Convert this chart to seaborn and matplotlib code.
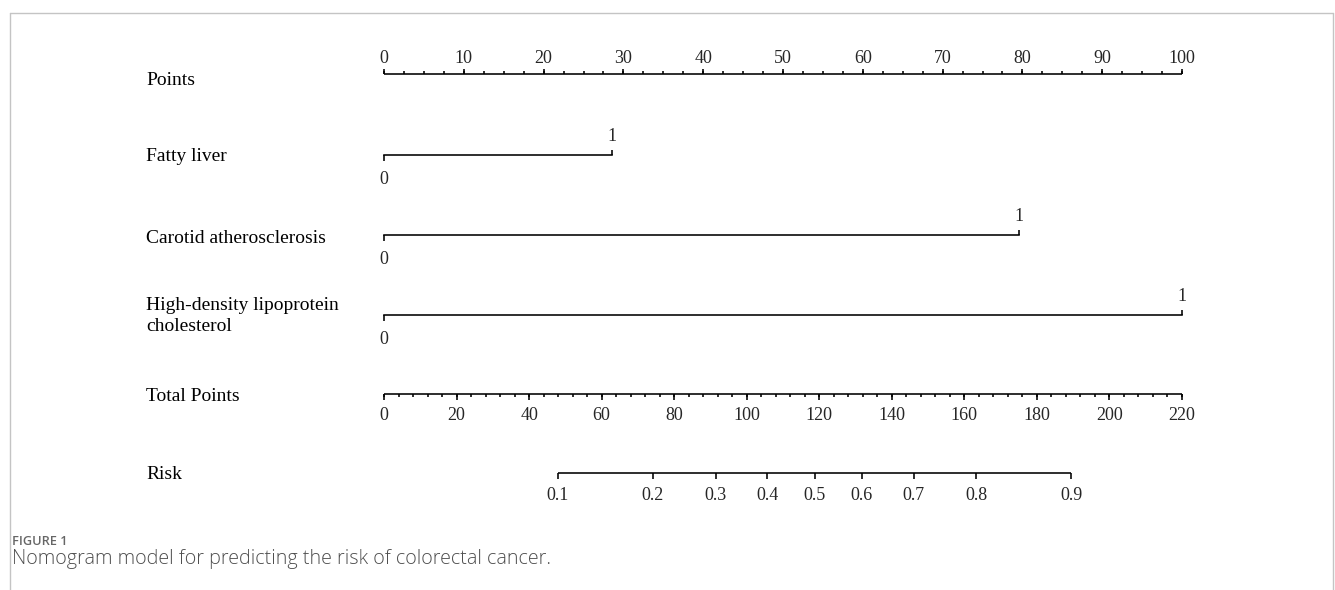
import numpy as np
import pandas as pd
import matplotlib
matplotlib.use("Agg")
import matplotlib.pyplot as plt
from matplotlib.lines import Line2D
import seaborn as sns

# ---- nomogram data -------------------------------------------------------
points_major = [0, 10, 20, 30, 40, 50, 60, 70, 80, 90, 100]
points_minor_step = 2.5

variables = ["Fatty liver", "Carotid atherosclerosis",
             "High-density lipoprotein\ncholesterol"]
level_labels = ["0", "1"]
level_points = [[0.0, 28.6], [0.0, 79.6], [0.0, 100.0]]

total_major = [0, 20, 40, 60, 80, 100, 120, 140, 160, 180, 200, 220]
total_minor_step = 4
total_max = 220

risk_ticks = [0.1, 0.2, 0.3, 0.4, 0.5, 0.6, 0.7, 0.8, 0.9]
risk_tick_labels = ["0.1", "0.2", "0.3", "0.4", "0.5", "0.6", "0.7", "0.8", "0.9"]
total_at_half_risk = 118.7     # total points where predicted risk = 0.5
points_per_logit = 32.2        # total points per unit of linear predictor

# ---- layout (figure pixels, measured from the top) -----------------------
W, H, DPI = 1335, 590, 100
LEFT_PX, RIGHT_PX = 384, 1182
LABEL_X_PX = 146
row_y = {"points": 74, "var": [155, 235, 315], "total": 394, "risk": 473}
label_base = {"points": 85, "var": [161, 243, [310, 331]], "total": 401, "risk": 479}
MAJ, MIN = 5.5, 3.0
LW = 1.15

sns.set_theme(style="white")
plt.rcParams["font.family"] = ["Liberation Serif", "DejaVu Serif"]

fig = plt.figure(figsize=(W / DPI, H / DPI), dpi=DPI)
fig.patch.set_facecolor("white")
ax = fig.add_axes([LEFT_PX / W, 0, (RIGHT_PX - LEFT_PX) / W, 1])
ax.set_xlim(0, 100)
ax.set_ylim(H, 0)
ax.axis("off")

px = 100 / (RIGHT_PX - LEFT_PX)   # data units per pixel along x
label_x = (LABEL_X_PX - LEFT_PX) * px
TICK_FS, LAB_FS = 13, 14
line_kw = dict(color="black", lw=LW, clip_on=False)


def tot2pts(v):
    return np.asarray(v, dtype=float) * 100.0 / total_max


def row_label(text, y):
    ax.text(label_x, y, text, ha="left", va="baseline", fontsize=LAB_FS,
            color="black", clip_on=False)


# Points scale: ticks point up, labels above
y = row_y["points"]
ax.hlines(y, 0, 100, **line_kw)
minor = np.arange(0, 100 + 1e-9, points_minor_step)
ax.vlines(minor, y - MIN, y, **line_kw)
ax.vlines(points_major, y - MAJ, y, **line_kw)
for v in points_major:
    ax.text(v, 63, str(v), ha="center", va="baseline", fontsize=TICK_FS)
row_label("Points", label_base["points"])

# Variable segments
seg = pd.DataFrame(
    [{"variable": var, "x": p, "y": row_y["var"][i]}
     for i, var in enumerate(variables) for p in level_points[i]]
)
sns.lineplot(data=seg, x="x", y="y", units="variable", estimator=None,
             sort=False, color="black", lw=LW, legend=False, ax=ax,
             clip_on=False, solid_capstyle="projecting")
ax.set_xlim(0, 100)
ax.set_ylim(H, 0)
ax.axis("off")

for i, var in enumerate(variables):
    y = row_y["var"][i]
    p0, p1 = level_points[i]
    # level 0 below the line, level 1 above
    ax.vlines(p0, y, y + MAJ, **line_kw)
    ax.vlines(p1, y - MAJ, y, **line_kw)
    ax.text(p0, y + 29, level_labels[0], ha="center", va="baseline", fontsize=TICK_FS)
    ax.text(p1, y - 14, level_labels[1], ha="center", va="baseline", fontsize=TICK_FS)
    lb = label_base["var"][i]
    if isinstance(lb, list):
        for line, yb in zip(var.split("\n"), lb):
            row_label(line, yb)
    else:
        row_label(var, lb)

# Total points scale: ticks point down, labels below
y = row_y["total"]
ax.hlines(y, 0, 100, **line_kw)
tminor = np.arange(0, total_max + 1e-9, total_minor_step)
ax.vlines(tot2pts(tminor), y, y + MIN, **line_kw)
ax.vlines(tot2pts(total_major), y, y + MAJ, **line_kw)
for v in total_major:
    ax.text(tot2pts(v), 420, str(v), ha="center", va="baseline", fontsize=TICK_FS)
row_label("Total Points", label_base["total"])

# Risk scale (logistic transform of total points)
y = row_y["risk"]
rt = np.asarray(risk_ticks)
risk_tot = total_at_half_risk + points_per_logit * np.log(rt / (1 - rt))
rx = tot2pts(risk_tot)
ax.hlines(y, rx.min(), rx.max(), **line_kw)
ax.vlines(rx, y, y + MAJ, **line_kw)
for xv, lab in zip(rx, risk_tick_labels):
    ax.text(xv, 500, lab, ha="center", va="baseline", fontsize=TICK_FS)
row_label("Risk", label_base["risk"])

# Caption
fig.text(12 / W, 1 - 545 / H, "FIGURE 1", ha="left", va="baseline",
         fontsize=9.2, color="#666666", family=["Open Sans", "DejaVu Sans"],
         fontweight="semibold")
fig.text(12 / W, 1 - 564 / H,
         "Nomogram model for predicting the risk of colorectal cancer.",
         ha="left", va="baseline", fontsize=14.2, color="#4f4f4f",
         family=["Open Sans", "DejaVu Sans"], fontweight="light")

# Light frame around the figure panel (open at the bottom)
frame_c = "#c4c4c4"
fx0, fx1, fy0 = 9.5 / W, 1332.5 / W, 1 - 12.5 / H
fig.add_artist(Line2D([fx0, fx1], [fy0, fy0], color=frame_c, lw=1.0,
                      transform=fig.transFigure))
fig.add_artist(Line2D([fx0, fx0], [0, fy0], color=frame_c, lw=1.0,
                      transform=fig.transFigure))
fig.add_artist(Line2D([fx1, fx1], [0, fy0], color=frame_c, lw=1.0,
                      transform=fig.transFigure))

fig.savefig("out.png", dpi=DPI, facecolor="white")
